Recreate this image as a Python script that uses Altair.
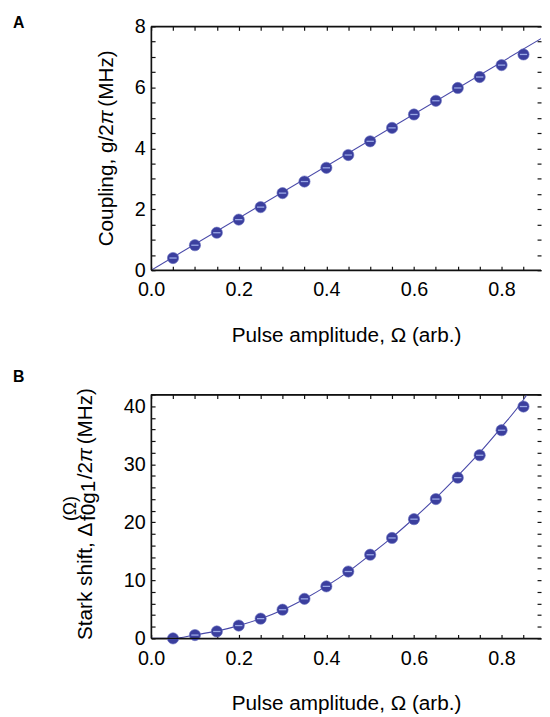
import altair as alt
import pandas as pd

# ---------------- data ----------------
amplitude = [0.05, 0.10, 0.15, 0.20, 0.25, 0.30, 0.35, 0.40, 0.45,
             0.50, 0.55, 0.60, 0.65, 0.70, 0.75, 0.80, 0.85]
coupling = [0.40, 0.82, 1.23, 1.66, 2.07, 2.53, 2.91, 3.36, 3.78,
            4.23, 4.67, 5.11, 5.56, 5.98, 6.34, 6.73, 7.08]
stark = [0.0, 0.57, 1.19, 2.21, 3.40, 4.94, 6.81, 8.96, 11.52,
         14.41, 17.30, 20.54, 24.00, 27.69, 31.55, 35.86, 39.94]

coupling_fit_amp = [0.0, 0.89]
coupling_fit = [0.0, 7.60]

stark_fit_amp = [0.0, 0.05, 0.10, 0.15, 0.20, 0.25, 0.30, 0.35, 0.40, 0.45,
                 0.50, 0.55, 0.60, 0.65, 0.70, 0.75, 0.80, 0.85, 0.858]
stark_fit = [0.0, 0.02, 0.60, 1.25, 2.20, 3.40, 4.90, 6.80, 9.00, 11.50,
             14.40, 17.40, 20.70, 24.20, 28.00, 32.00, 36.40, 41.10, 42.0]

x_label_values = [0.0, 0.2, 0.4, 0.6, 0.8]
x_minor_values = [0.0, 0.05, 0.10, 0.15, 0.20, 0.25, 0.30, 0.35, 0.40, 0.45,
                  0.50, 0.55, 0.60, 0.65, 0.70, 0.75, 0.80, 0.85]
coupling_label_values = [0, 2, 4, 6, 8]
coupling_minor_values = [0, 0.5, 1, 1.5, 2, 2.5, 3, 3.5, 4, 4.5, 5, 5.5,
                         6, 6.5, 7, 7.5, 8]
stark_label_values = [0, 10, 20, 30, 40]
stark_minor_values = [0, 2, 4, 6, 8, 10, 12, 14, 16, 18, 20, 22, 24, 26,
                      28, 30, 32, 34, 36, 38, 40, 42]

x_domain = [0, 0.89]
coupling_domain = [0, 8]
stark_domain = [0, 42]

x_title = "Pulse amplitude, Ω (arb.)"

# ---------------- style ----------------
FONT = "Liberation Sans"
W, H = 395, 247
PT_COLOR = "#3b3f9e"
LINE_COLOR = "#4848a8"
HL_COLOR = "#9aa8e6"
FRAME = "#111111"
INWARD = alt.ExprRef(expr="-4")

ARIAL = {" ": .278, "(": .333, ")": .333, ",": .278, ".": .278, "/": .278,
         "0": .556, "1": .556, "2": .556, "A": .667, "B": .667, "C": .722,
         "H": .722, "M": .833, "S": .667, "a": .556, "b": .556, "f": .278,
         "g": .556, "h": .556, "i": .222, "k": .5, "l": .222, "n": .556,
         "o": .556, "p": .556, "r": .333, "s": .5, "t": .278, "u": .556,
         "z": .5, "Δ": .668, "Ω": .768, "π": .57}


def tw(s, size):
    return sum(ARIAL.get(c, .556) for c in s) * size


one = pd.DataFrame({"k": [0]})


def text_piece(txt, x, y, size, italic=False, angle=270, weight="normal"):
    return alt.Chart(one).mark_text(
        text=txt, angle=angle, align="left", baseline="alphabetic",
        font=FONT, fontSize=size, fontStyle="italic" if italic else "normal",
        fontWeight=weight, color="black"
    ).encode(x=alt.value(x), y=alt.value(y))


def panel(xv, yv, fx, fy, ydom, ylab, yminor, ystep, letter, letter_y,
          title_layers):
    pts = pd.DataFrame({"x": xv, "y": yv})
    fit = pd.DataFrame({"x": fx, "y": fy})
    xs = alt.Scale(domain=x_domain, nice=False, zero=False)
    ys = alt.Scale(domain=ydom, nice=False, zero=False)

    x_main = alt.Axis(
        orient="bottom", values=x_minor_values,
        labelExpr="abs(datum.value * 5 - round(datum.value * 5)) < 1e-6"
                  " ? format(datum.value, '.1f') : ''",
        ticks=True, tickSize=INWARD, tickColor=FRAME, tickWidth=1.2,
        domain=True, domainColor=FRAME, domainWidth=1.2,
        labelFontSize=20, labelPadding=14, labelFlush=False,
        labelOverlap=False, labelColor="black", labelFont=FONT,
        title=x_title, titleFont=FONT, titleFontSize=21,
        titleFontWeight="normal", titlePadding=25, titleColor="black",
        grid=False)
    y_main = alt.Axis(
        orient="left", values=yminor,
        labelExpr=f"abs(datum.value / {ystep} - round(datum.value / {ystep}))"
                  " < 1e-6 ? format(datum.value, 'd') : ''",
        ticks=True, tickSize=INWARD, tickColor=FRAME, tickWidth=1.2,
        domain=True, domainColor=FRAME, domainWidth=1.2,
        labelFontSize=20, labelPadding=10, labelFlush=False,
        labelOverlap=False, labelColor="black", labelFont=FONT,
        title=None, grid=False)
    x_top = alt.Axis(orient="top", values=x_minor_values, labels=False,
                     ticks=True, tickSize=INWARD, tickColor=FRAME,
                     tickWidth=1.2, domain=True, domainColor=FRAME,
                     domainWidth=1.2, title=None, grid=False)
    y_right = alt.Axis(orient="right", values=yminor, labels=False,
                       ticks=True, tickSize=INWARD, tickColor=FRAME,
                       tickWidth=1.2, domain=False, title=None, grid=False)

    line = alt.Chart(fit).mark_line(color=LINE_COLOR, strokeWidth=1.1,
                                    interpolate="monotone", clip=True).encode(
        x=alt.X("x:Q", scale=xs, axis=x_main),
        y=alt.Y("y:Q", scale=ys, axis=y_main))

    dots = alt.Chart(pts).mark_point(filled=True, size=130, color=PT_COLOR,
                                     opacity=1, stroke="#6a70c0",
                                     strokeWidth=0.6).encode(
        x=alt.X("x:Q", scale=xs, axis=x_top),
        y=alt.Y("y:Q", scale=ys, axis=y_right))

    hl = alt.Chart(pts).mark_point(shape="M-1,0L1,0", size=55, filled=False,
                                   color=HL_COLOR, strokeWidth=1.3,
                                   opacity=1).encode(
        x=alt.X("x:Q", scale=xs, axis=None),
        y=alt.Y("y:Q", scale=ys, axis=None))

    # frame edges (top, bottom, left) drawn from the domain limits
    frame_df = pd.DataFrame({
        "x": [x_domain[0], x_domain[0], x_domain[0]],
        "x2": [x_domain[1], x_domain[1], x_domain[0]],
        "y": [ydom[1], ydom[0], ydom[0]],
        "y2": [ydom[1], ydom[0], ydom[1]],
    })
    frame = alt.Chart(frame_df).mark_rule(color=FRAME, strokeWidth=1.2).encode(
        x=alt.X("x:Q", scale=xs, axis=None), x2="x2:Q",
        y=alt.Y("y:Q", scale=ys, axis=None), y2="y2:Q")

    lab = text_piece(letter, -140, letter_y, 16, angle=0, weight="bold")

    return alt.layer(line, dots, hl, frame, lab, *title_layers).resolve_axis(
        x="independent", y="independent").properties(width=W, height=H)


TS = 21
SP = tw(" ", TS)

# ---- top y title: "Coupling, g/2π (MHz)" ----
p1, p2, p3 = "Coupling, g/2", "π", "(MHz)"
tot = tw(p1, TS) + tw(p2, TS) + SP + tw(p3, TS)
y0 = H / 2 + tot / 2
xb = -39
top_title = [
    text_piece(p1, xb, y0, TS),
    text_piece(p2, xb, y0 - tw(p1, TS), TS, italic=True),
    text_piece(p3, xb, y0 - tw(p1, TS) - tw(p2, TS) - SP, TS),
]

# ---- bottom y title: "Stark shift, Δ_{f0g1}^{(Ω)}/2π (MHz)" ----
m1, sub, sup, m2a, m2b, m2c = "Stark shift, Δ", "f0g1", "(Ω)", "/2", "π", "(MHz)"
SUB, SUP = 21, 18
GAP = 1.5
wsub = max(tw(sub, SUB), tw(sup, SUP))
tot2 = (tw(m1, TS) + GAP + wsub + GAP + tw(m2a, TS) + tw(m2b, TS) + SP
        + tw(m2c, TS))
yb0 = 121 + tot2 / 2
xm = -60
ys1 = yb0 - tw(m1, TS) - GAP
ys2 = ys1 - wsub - GAP
bottom_title = [
    text_piece(m1, xm, yb0, TS),
    text_piece(sub, xm + 3, ys1, SUB),
    text_piece(sup, xm - 16, ys1, SUP),
    text_piece(m2a, xm, ys2, TS),
    text_piece(m2b, xm, ys2 - tw(m2a, TS), TS, italic=True),
    text_piece(m2c, xm, ys2 - tw(m2a, TS) - tw(m2b, TS) - SP, TS),
]

top = panel(amplitude, coupling, coupling_fit_amp, coupling_fit,
            coupling_domain, coupling_label_values, coupling_minor_values,
            2, "A", 2, top_title)
bottom = panel(amplitude, stark, stark_fit_amp, stark_fit,
               stark_domain, stark_label_values, stark_minor_values,
               10, "B", -13, bottom_title)

chart = alt.vconcat(top, bottom, spacing=24).properties(
    padding={"left": 5, "top": 3, "right": 0, "bottom": 0},
    background="white"
).configure_view(stroke=None)

chart.save("out.html", embed_options={"renderer": "svg", "actions": False})
